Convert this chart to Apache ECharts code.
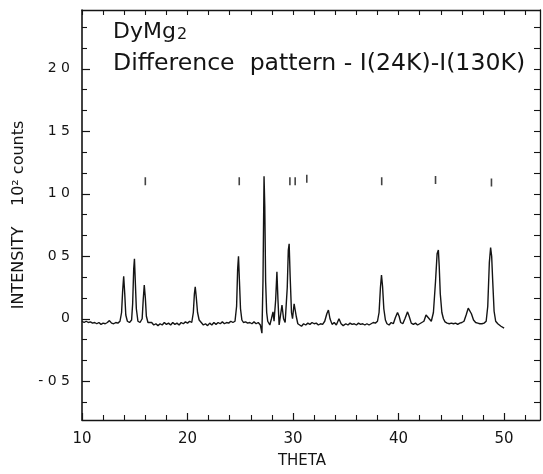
<!DOCTYPE html>
<html>
<head>
<meta charset="utf-8">
<script src="https://cdn.jsdelivr.net/npm/echarts@6/dist/echarts.min.js"></script>
<style>
html,body{margin:0;padding:0;background:#fff;}
#c{width:543px;height:474px;}
</style>
</head>
<body>
<div id="c"></div>
<script>
// ---- data ----
const theta = [
10.0,10.2,10.4,10.6,10.8,11.0,11.2,11.4,11.6,11.8,12.0,12.2,12.4,12.6,12.8,13.0,13.2,13.4,13.6,
13.75,13.85,13.95,14.05,14.15,14.3,14.5,14.7,14.8,14.9,14.97,15.05,15.15,15.3,15.5,15.7,15.8,15.9,16.0,16.1,
16.25,16.4,16.6,16.8,17.0,17.2,17.4,17.6,17.8,18.0,18.2,18.4,18.6,18.8,19.0,19.2,19.4,19.6,19.8,20.0,20.2,20.4,
20.55,20.65,20.73,20.82,20.95,21.1,21.3,21.5,21.7,21.9,22.1,22.3,22.5,22.7,22.9,23.1,23.3,23.5,23.7,23.9,24.1,24.3,24.5,
24.65,24.75,24.83,24.92,25.02,25.15,25.3,25.5,25.7,25.9,26.1,26.3,26.5,26.7,26.9,
27.05,27.15,27.25,27.32,27.4,27.5,27.6,27.8,27.95,28.1,28.2,28.35,28.47,28.57,28.68,28.8,28.95,29.1,29.25,
29.45,29.55,29.63,29.72,29.85,29.95,30.1,30.2,30.3,30.45,30.6,30.8,31.0,31.2,31.4,31.6,31.8,32.0,32.2,32.4,32.6,32.8,
33.0,33.2,33.35,33.5,33.7,33.9,34.1,34.35,34.55,34.75,35.0,35.2,35.4,35.6,35.8,36.0,36.2,36.4,36.6,36.8,37.0,37.2,37.4,37.6,37.8,
38.0,38.15,38.28,38.38,38.48,38.6,38.75,38.9,39.1,39.3,39.5,39.7,39.9,40.05,40.2,40.4,40.6,40.85,41.0,41.2,41.4,41.6,41.8,
42.0,42.2,42.4,42.6,42.75,42.9,43.1,43.3,43.5,43.65,43.77,43.85,43.95,44.1,44.25,44.4,44.6,44.8,45.0,45.2,45.4,45.6,45.8,
46.0,46.2,46.4,46.6,46.75,46.9,47.1,47.3,47.5,47.7,47.9,48.1,48.3,48.45,48.6,48.72,48.82,48.92,49.05,49.2,49.4,49.55,49.7,49.85,50.0
];
const intensity = [
-0.02,-0.03,-0.02,-0.03,-0.025,-0.035,-0.03,-0.04,-0.03,-0.045,-0.035,-0.04,-0.03,-0.015,-0.035,-0.04,-0.03,-0.035,-0.02,
0.05,0.22,0.34,0.2,0.03,-0.02,-0.03,-0.01,0.12,0.40,0.48,0.30,0.08,-0.02,-0.03,0.0,0.15,0.27,0.17,0.02,
-0.03,-0.04,-0.03,-0.05,-0.04,-0.055,-0.04,-0.05,-0.03,-0.045,-0.035,-0.05,-0.03,-0.045,-0.035,-0.05,-0.03,-0.04,-0.025,-0.035,-0.02,-0.03,
0.05,0.2,0.255,0.18,0.05,-0.01,-0.03,-0.05,-0.04,-0.055,-0.035,-0.05,-0.03,-0.045,-0.03,-0.04,-0.025,-0.04,-0.03,-0.035,-0.02,-0.03,-0.02,
0.1,0.4,0.50,0.3,0.08,-0.01,-0.03,-0.025,-0.035,-0.03,-0.04,-0.025,-0.04,-0.03,-0.05,
-0.115,0.3,1.14,0.9,0.3,0.05,-0.02,-0.05,0.0,0.055,-0.02,0.15,0.376,0.15,-0.05,0.02,0.11,0.0,-0.03,
0.25,0.55,0.60,0.35,0.05,0.0,0.12,0.115,0.02,-0.04,-0.03,-0.06,-0.04,-0.05,-0.035,-0.045,-0.03,-0.04,-0.035,-0.05,-0.04,-0.045,
-0.02,0.04,0.07,0.0,-0.045,-0.03,-0.05,0.0,-0.04,-0.055,-0.04,-0.05,-0.035,-0.045,-0.04,-0.05,-0.035,-0.045,-0.04,-0.05,-0.04,-0.05,-0.04,-0.03,-0.035,
-0.02,0.05,0.25,0.35,0.26,0.08,-0.01,-0.04,-0.05,-0.03,-0.04,0.01,0.05,0.02,-0.03,-0.04,0.0,0.055,0.02,-0.035,-0.045,-0.035,-0.05,
-0.04,-0.03,-0.02,0.03,0.04,0.0,-0.02,0.05,0.3,0.52,0.55,0.42,0.2,0.05,0.0,-0.025,-0.035,-0.04,-0.035,-0.04,-0.035,-0.045,-0.035,
-0.03,-0.02,0.03,0.085,0.08,0.04,-0.01,-0.03,-0.035,-0.04,-0.04,-0.035,-0.02,0.1,0.45,0.57,0.5,0.3,0.06,-0.02,-0.04,-0.03,-0.06,-0.05,-0.075
];
// reflection position markers (short vertical bars)
const markerTheta = [16.0, 24.9, 29.7, 30.2, 31.3, 38.4, 43.5, 48.8];
const markerLevel = [1.10, 1.10, 1.10, 1.10, 1.12, 1.10, 1.11, 1.09];

// axis ticks and labels
const xLabelValues = [10, 20, 30, 40, 50];
const xMinorTicks = [12,14,16,18,22,24,26,28,32,34,36,38,42,44,46,48,52];
const yLabelValues = [-0.5, 0, 0.5, 1, 1.5, 2];
const yLabelText = ['- 0 5', '0', '0 5', '1 0', '1 5', '2 0'];
const yMinorTicks = [-4/6,-2/6,-1/6,1/6,2/6,4/6,5/6,7/6,8/6,10/6,11/6,13/6,14/6];
const yAllTicks = [-4/6,-3/6,-2/6,-1/6,0,1/6,2/6,3/6,4/6,5/6,1,7/6,8/6,9/6,10/6,11/6,2,13/6,14/6];

const titleLine1 = 'DyMg';
const titleSub = '2';
const titleLine2 = 'Difference  pattern - I(24K)-I(130K)';
const xName = 'THETA';
const yName = 'INTENSITY    10\u00b2 counts';

const X_MIN = 10, X_MAX = 53.4, Y_MIN = -0.81, Y_MAX = 2.47;
const FONT = 'DejaVu Sans';
const INK = '#141414';

const chart = echarts.init(document.getElementById('c'), null, {renderer: 'canvas'});

const lineData = theta.map((t, i) => [t, intensity[i]]);
const markerData = markerTheta.map((t, i) => [t, markerLevel[i]]);

const option = {
  animation: false,
  backgroundColor: '#fff',
  grid: {left: 82, right: 3, top: 10, bottom: 54, containLabel: false},
  title: [
    {
      left: 113, top: 17, padding: 0,
      text: '{a|' + titleLine1 + '}{s|' + titleSub + '}',
      textStyle: {
        fontWeight: 'normal',
        rich: {
          a: {fontFamily: FONT, fontSize: 22, fontWeight: 'normal', color: INK, verticalAlign: 'bottom', lineHeight: 26},
          s: {fontFamily: FONT, fontSize: 16, fontWeight: 'normal', color: INK, verticalAlign: 'bottom', lineHeight: 20, padding: [0,0,0,1]}
        }
      }
    },
    {
      left: 113, top: 52, padding: 0,
      text: titleLine2,
      textStyle: {fontFamily: FONT, fontSize: 23.6, fontWeight: 'normal', color: INK}
    }
  ],
  xAxis: [
    {
      type: 'value', position: 'bottom', min: X_MIN, max: X_MAX,
      name: xName, nameLocation: 'middle', nameGap: 34,
      nameTextStyle: {fontFamily: FONT, fontSize: 15, color: INK, padding: [0, 18, 0, 0]},
      axisLine: {show: true, onZero: false, lineStyle: {color: INK, width: 1.3}},
      axisTick: {show: true, inside: true, length: 7, customValues: xLabelValues, lineStyle: {color: INK, width: 1.2}},
      axisLabel: {show: true, customValues: xLabelValues, margin: 12, fontFamily: FONT, fontSize: 15, color: INK},
      splitLine: {show: false}
    },
    {
      type: 'value', position: 'bottom', min: X_MIN, max: X_MAX,
      axisLine: {show: false, onZero: false},
      axisTick: {show: true, inside: true, length: 5, customValues: xMinorTicks, lineStyle: {color: INK, width: 1.1}},
      axisLabel: {show: false}, splitLine: {show: false}
    },
    {
      type: 'value', position: 'top', min: X_MIN, max: X_MAX,
      axisLine: {show: true, onZero: false, lineStyle: {color: INK, width: 1.3}},
      axisTick: {show: true, inside: true, length: 5, customValues: xLabelValues.concat(xMinorTicks), lineStyle: {color: INK, width: 1.1}},
      axisLabel: {show: false}, splitLine: {show: false}
    }
  ],
  yAxis: [
    {
      type: 'value', position: 'left', min: Y_MIN, max: Y_MAX,
      name: yName, nameLocation: 'middle', nameGap: 51, nameRotate: 90,
      nameTextStyle: {fontFamily: FONT, fontSize: 16, color: INK},
      axisLine: {show: true, onZero: false, lineStyle: {color: INK, width: 1.6}},
      axisTick: {show: true, inside: true, length: 8, customValues: yLabelValues, lineStyle: {color: INK, width: 1.2}},
      axisLabel: {
        show: true, customValues: yLabelValues, margin: 12, fontFamily: FONT, fontSize: 14, color: INK,
        formatter: function (v) {
          for (let i = 0; i < yLabelValues.length; i++) {
            if (Math.abs(yLabelValues[i] - v) < 1e-6) return yLabelText[i];
          }
          return '';
        }
      },
      splitLine: {show: false}
    },
    {
      type: 'value', position: 'left', min: Y_MIN, max: Y_MAX,
      axisLine: {show: false, onZero: false},
      axisTick: {show: true, inside: true, length: 5, customValues: yMinorTicks, lineStyle: {color: INK, width: 1.1}},
      axisLabel: {show: false}, splitLine: {show: false}
    },
    {
      type: 'value', position: 'right', min: Y_MIN, max: Y_MAX,
      axisLine: {show: true, onZero: false, lineStyle: {color: INK, width: 1.3}},
      axisTick: {show: true, inside: true, length: 6, customValues: yAllTicks, lineStyle: {color: INK, width: 1.1}},
      axisLabel: {show: false}, splitLine: {show: false}
    }
  ],
  series: [
    {
      type: 'line', xAxisIndex: 0, yAxisIndex: 0, data: lineData,
      showSymbol: false, symbol: 'none', smooth: false,
      lineStyle: {color: INK, width: 1.4}, clip: true
    },
    {
      type: 'scatter', xAxisIndex: 0, yAxisIndex: 0, data: markerData,
      symbol: 'rect', symbolSize: [1.6, 8],
      itemStyle: {color: INK}
    }
  ]
};
chart.setOption(option);
</script>
</body>
</html>
